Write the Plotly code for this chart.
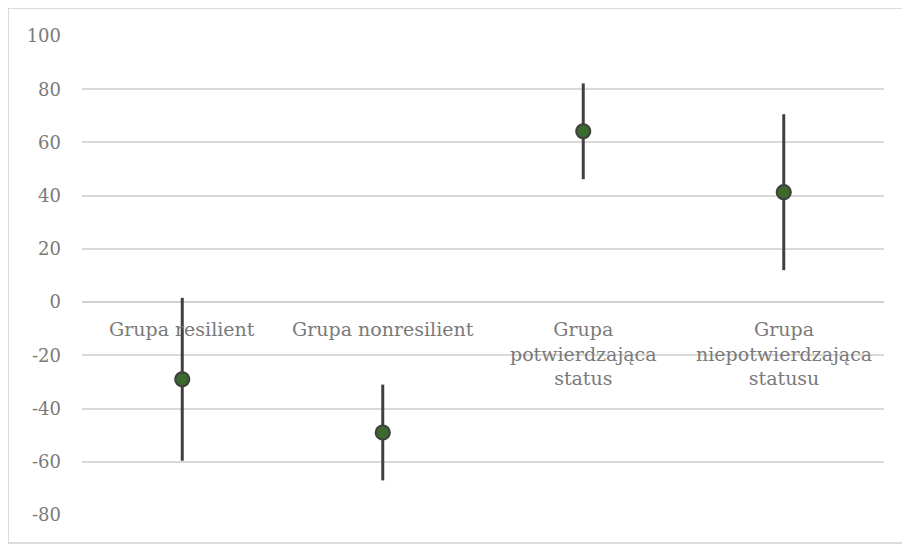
import plotly.graph_objects as go

categories = ["Grupa resilient", "Grupa nonresilient",
              "Grupa<br>potwierdzająca<br>status", "Grupa<br>niepotwierdzająca<br>statusu"]
means = [-29.0, -49.0, 64.2, 41.3]
err_plus = [30.6, 18.0, 18.0, 29.3]
err_minus = [30.6, 18.0, 18.0, 29.3]
y_ticks = [-80, -60, -40, -20, 0, 20, 40, 60, 80, 100]
y_tick_text = ["-80", "-60", "-40", "-20", "0", "20", "40", "60", "80", "100"]

FONT = "DejaVu Serif"
GRAY = "#7a7a7a"

W, H = 900, 536
ML, MR, MT, MB = 74, 24, 28, 29
PW, PH = W - ML - MR, H - MT - MB

fig = go.Figure()
fig.add_trace(go.Scatter(
    x=categories, y=means, mode="markers",
    marker=dict(size=14, color="#3b6b2c", line=dict(color="#404040", width=2.2)),
    error_y=dict(type="data", symmetric=False, array=err_plus, arrayminus=err_minus,
                 color="#404040", thickness=3, width=0),
    showlegend=False,
))

for c in categories:
    fig.add_annotation(x=c, y=0, xref="x", yref="y", text=c, showarrow=False,
                       yanchor="top", yshift=-14,
                       font=dict(family=FONT, size=19, color=GRAY))

fig.add_shape(type="rect", xref="paper", yref="paper",
              x0=-ML / PW, x1=1 + (MR - 1) / PW, y0=-(MB - 1) / PH, y1=1 + MT / PH,
              line=dict(color="#d0d0d0", width=1.5), layer="below")

fig.update_layout(
    width=W, height=H,
    margin=dict(l=ML, r=MR, t=MT, b=MB, autoexpand=False),
    paper_bgcolor="white", plot_bgcolor="white",
    font=dict(family=FONT, size=18, color=GRAY),
    xaxis=dict(showticklabels=False, showgrid=False, zeroline=False, showline=False,
               range=[-0.5, 3.5]),
    yaxis=dict(range=[-80, 100], tickvals=y_ticks, ticktext=y_tick_text,
               showgrid=True, gridcolor="#d9d9d9",
               gridwidth=1.5, zeroline=True, zerolinecolor="#d0d0d0", zerolinewidth=1.5,
               showline=False, ticklabelstandoff=20, automargin=False,
               tickfont=dict(family=FONT, size=18, color=GRAY)),
)

fig.write_html("out.html")
